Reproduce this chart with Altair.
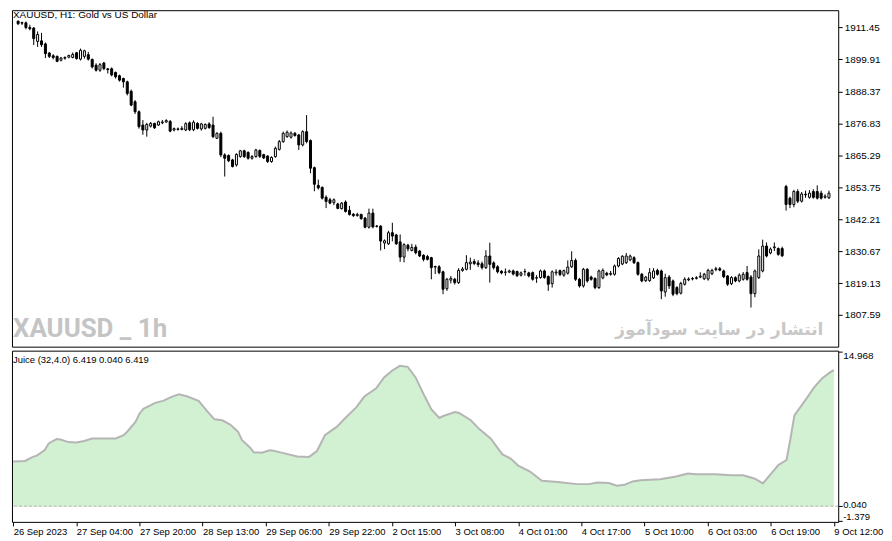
import altair as alt
import pandas as pd

# hourly XAUUSD bars, 26 Sep 2023 11:00 -> 9 Oct 2023 12:00 (index 0..208)
BAR_IDX = list(range(209))
OPENS = [
    1913.7, 1913.2, 1913.1, 1911.4, 1911.2, 1906.4, 1906.6, 1905.5, 1902.2, 1901.2,
    1901.0, 1899.6, 1900.3, 1900.7, 1900.6, 1902.3, 1900.0, 1901.0, 1901.6, 1899.9,
    1897.8, 1896.0, 1898.6, 1896.5, 1896.5, 1895.2, 1894.0, 1893.0, 1891.8, 1888.4,
    1884.6, 1881.0, 1876.2, 1874.4, 1875.8, 1876.8, 1876.2, 1877.0, 1877.3, 1877.5,
    1874.4, 1874.8, 1874.6, 1874.4, 1877.0, 1874.5, 1876.8, 1874.8, 1875.0, 1876.6,
    1876.2, 1871.4, 1873.2, 1865.4, 1865.2, 1863.6, 1861.8, 1864.8, 1866.9, 1866.3,
    1864.2, 1864.8, 1867.0, 1865.5, 1865.0, 1863.0, 1864.8, 1867.4, 1870.2, 1872.0,
    1871.8, 1873.2, 1872.6, 1869.0, 1873.8, 1870.6, 1860.8, 1854.4, 1853.7, 1850.1,
    1849.2, 1848.2, 1847.7, 1846.0, 1848.4, 1845.4, 1844.0, 1843.5, 1843.9, 1842.6,
    1839.3, 1844.4, 1839.7, 1839.7, 1833.6, 1833.3, 1837.3, 1836.5, 1834.0, 1828.5,
    1832.8, 1830.9, 1832.1, 1830.7, 1829.2, 1828.7, 1828.3, 1824.9, 1825.0, 1823.2,
    1817.1, 1820.2, 1820.5, 1819.3, 1823.7, 1824.1, 1826.1, 1826.9, 1826.4, 1826.1,
    1824.7, 1828.9, 1826.4, 1825.0, 1823.4, 1823.0, 1823.1, 1823.5, 1823.3, 1822.0,
    1823.2, 1822.8, 1822.9, 1820.9, 1821.1, 1823.5, 1821.5, 1818.9, 1822.8, 1823.6,
    1822.0, 1822.7, 1825.0, 1827.3, 1820.5, 1818.1, 1824.1, 1821.3, 1820.8, 1817.5,
    1821.0, 1822.7, 1822.3, 1822.3, 1825.3, 1826.0, 1826.5, 1827.5, 1828.3, 1826.5,
    1822.3, 1820.0, 1820.0, 1821.0, 1823.7, 1823.5, 1815.9, 1821.3, 1819.9, 1817.5,
    1815.5, 1818.7, 1820.3, 1820.6, 1820.8, 1821.3, 1820.7, 1820.6, 1822.5, 1824.0,
    1824.3, 1823.5, 1821.7, 1818.9, 1821.1, 1819.9, 1820.5, 1822.9, 1821.3, 1815.3,
    1821.1, 1823.5, 1832.5, 1830.0, 1831.9, 1831.6, 1831.6, 1854.0, 1849.8, 1847.5,
    1852.2, 1848.7, 1851.2, 1850.1, 1852.2, 1852.2, 1851.6, 1850.1, 1849.9,
]
HIGHS = [
    1913.9, 1913.5, 1913.6, 1912.4, 1911.6, 1910.0, 1909.5, 1906.0, 1902.6, 1901.8,
    1901.3, 1900.8, 1901.0, 1901.6, 1902.4, 1902.6, 1903.8, 1903.4, 1902.6, 1900.2,
    1898.5, 1898.6, 1899.0, 1896.8, 1897.0, 1895.5, 1894.4, 1893.3, 1892.2, 1889.0,
    1885.2, 1881.5, 1878.0, 1877.0, 1877.3, 1877.0, 1877.8, 1878.0, 1878.3, 1878.0,
    1875.3, 1875.3, 1875.8, 1877.2, 1877.5, 1877.9, 1877.2, 1877.0, 1876.8, 1877.2,
    1879.2, 1873.6, 1873.8, 1866.0, 1865.6, 1864.0, 1866.0, 1867.2, 1867.3, 1866.7,
    1865.4, 1867.6, 1867.4, 1865.8, 1865.3, 1864.9, 1868.4, 1870.8, 1873.8, 1874.2,
    1873.9, 1873.7, 1873.0, 1874.3, 1879.8, 1871.0, 1861.2, 1856.5, 1854.0, 1850.8,
    1849.9, 1849.7, 1848.1, 1848.4, 1849.0, 1847.0, 1844.4, 1844.5, 1844.2, 1843.0,
    1846.0, 1846.0, 1840.1, 1840.0, 1834.9, 1838.0, 1840.9, 1836.9, 1836.7, 1833.5,
    1833.3, 1833.3, 1833.0, 1831.0, 1829.5, 1829.3, 1828.6, 1825.4, 1825.6, 1823.6,
    1821.0, 1821.7, 1821.0, 1824.5, 1824.9, 1829.2, 1828.3, 1827.8, 1827.4, 1826.9,
    1831.0, 1833.7, 1827.0, 1825.6, 1823.8, 1824.4, 1824.0, 1824.0, 1823.6, 1823.3,
    1824.3, 1823.2, 1823.3, 1822.0, 1824.0, 1824.0, 1821.9, 1823.7, 1824.1, 1824.0,
    1824.0, 1827.3, 1830.6, 1828.0, 1821.0, 1824.6, 1824.5, 1821.8, 1821.2, 1824.0,
    1824.4, 1823.2, 1823.5, 1825.8, 1828.5, 1829.2, 1830.0, 1829.4, 1828.8, 1826.9,
    1822.8, 1821.7, 1824.5, 1824.5, 1824.3, 1824.0, 1822.5, 1822.0, 1820.4, 1818.0,
    1819.6, 1821.2, 1821.2, 1821.3, 1821.6, 1823.0, 1822.8, 1824.3, 1824.3, 1825.0,
    1824.9, 1824.0, 1822.0, 1821.6, 1821.6, 1822.6, 1823.1, 1825.3, 1822.0, 1824.0,
    1831.3, 1834.8, 1833.8, 1832.0, 1833.8, 1832.0, 1832.3, 1854.6, 1850.3, 1852.8,
    1853.0, 1852.0, 1852.5, 1852.7, 1853.0, 1854.4, 1852.5, 1851.2, 1852.5,
]
LOWS = [
    1912.3, 1912.3, 1910.8, 1910.4, 1905.1, 1904.4, 1904.4, 1900.4, 1900.4, 1899.9,
    1898.9, 1899.2, 1899.8, 1900.3, 1900.3, 1899.8, 1899.5, 1900.2, 1899.5, 1896.6,
    1895.5, 1895.4, 1896.0, 1894.8, 1893.8, 1893.0, 1891.9, 1889.7, 1886.9, 1883.0,
    1880.2, 1874.9, 1872.7, 1872.0, 1875.3, 1874.8, 1875.9, 1876.5, 1877.0, 1873.6,
    1873.9, 1874.2, 1874.3, 1874.0, 1874.0, 1874.0, 1874.6, 1874.2, 1874.6, 1874.8,
    1871.5, 1871.2, 1864.6, 1857.6, 1862.8, 1860.9, 1861.2, 1864.4, 1864.3, 1863.7,
    1863.7, 1864.4, 1864.3, 1863.9, 1862.5, 1862.6, 1864.4, 1867.0, 1869.8, 1871.6,
    1871.3, 1872.0, 1867.2, 1868.5, 1869.6, 1858.8, 1852.3, 1852.9, 1849.3, 1846.2,
    1847.6, 1847.3, 1845.8, 1845.7, 1844.6, 1843.5, 1843.0, 1843.1, 1842.0, 1838.9,
    1838.8, 1838.9, 1839.2, 1830.9, 1831.4, 1832.9, 1834.2, 1832.9, 1826.8, 1826.6,
    1830.6, 1830.6, 1829.5, 1828.5, 1827.0, 1827.3, 1820.5, 1822.4, 1822.3, 1815.1,
    1816.3, 1819.0, 1818.6, 1818.8, 1823.2, 1823.7, 1823.9, 1825.6, 1824.9, 1824.0,
    1824.2, 1819.3, 1824.0, 1822.6, 1822.3, 1821.8, 1822.7, 1821.9, 1821.3, 1821.5,
    1821.8, 1821.2, 1820.0, 1819.2, 1820.7, 1820.7, 1816.3, 1817.5, 1821.8, 1821.6,
    1821.4, 1822.2, 1824.6, 1819.9, 1817.5, 1817.5, 1819.3, 1820.0, 1816.9, 1817.0,
    1820.5, 1821.6, 1821.8, 1821.8, 1824.8, 1825.6, 1826.0, 1827.0, 1826.0, 1821.8,
    1819.4, 1819.5, 1819.6, 1820.6, 1821.8, 1813.3, 1814.2, 1817.0, 1814.4, 1814.7,
    1815.0, 1818.2, 1819.8, 1820.1, 1820.4, 1820.9, 1820.2, 1820.0, 1822.0, 1823.4,
    1823.4, 1820.9, 1818.1, 1818.4, 1819.4, 1819.4, 1820.0, 1820.0, 1810.3, 1814.0,
    1820.6, 1823.0, 1828.4, 1829.5, 1830.7, 1829.0, 1828.5, 1845.3, 1846.2, 1846.5,
    1848.0, 1848.2, 1849.9, 1849.6, 1849.6, 1849.3, 1849.3, 1849.6, 1849.5,
]
CLOSES = [
    1912.8, 1913.0, 1911.4, 1911.0, 1907.4, 1908.9, 1905.2, 1902.0, 1901.0, 1900.6,
    1899.2, 1900.4, 1900.6, 1901.3, 1901.7, 1900.2, 1903.2, 1903.0, 1900.0, 1897.2,
    1896.0, 1898.0, 1896.6, 1896.2, 1894.3, 1893.6, 1892.4, 1891.8, 1887.6, 1883.4,
    1881.0, 1875.6, 1874.4, 1876.4, 1876.8, 1875.2, 1877.4, 1877.3, 1877.8, 1874.0,
    1874.9, 1874.6, 1875.0, 1876.7, 1874.5, 1877.2, 1875.0, 1876.6, 1876.4, 1875.3,
    1872.0, 1873.2, 1865.4, 1864.2, 1863.3, 1861.2, 1865.6, 1866.9, 1864.8, 1864.2,
    1864.8, 1867.2, 1864.9, 1864.3, 1863.0, 1864.5, 1867.8, 1870.2, 1873.2, 1873.6,
    1873.3, 1872.4, 1869.0, 1873.8, 1870.2, 1860.6, 1854.8, 1853.5, 1849.8, 1848.6,
    1848.0, 1849.2, 1846.1, 1848.0, 1845.0, 1843.9, 1843.5, 1843.9, 1842.4, 1839.3,
    1844.4, 1839.4, 1839.6, 1834.3, 1834.4, 1837.3, 1836.1, 1833.3, 1828.5, 1833.0,
    1831.5, 1832.0, 1830.1, 1828.9, 1827.7, 1827.7, 1824.7, 1825.1, 1822.9, 1816.9,
    1820.5, 1820.8, 1819.3, 1823.7, 1824.2, 1826.5, 1826.7, 1826.2, 1825.8, 1824.7,
    1828.9, 1825.9, 1824.7, 1823.2, 1822.8, 1823.1, 1823.5, 1822.4, 1821.8, 1822.8,
    1823.3, 1821.7, 1820.5, 1821.1, 1823.5, 1821.1, 1818.7, 1823.2, 1823.1, 1822.2,
    1823.6, 1824.9, 1827.3, 1820.5, 1818.1, 1824.1, 1819.9, 1820.5, 1817.5, 1823.5,
    1823.7, 1822.1, 1822.6, 1825.3, 1828.0, 1828.8, 1828.9, 1828.9, 1826.5, 1822.3,
    1819.9, 1821.3, 1822.9, 1823.5, 1822.3, 1816.3, 1821.1, 1818.1, 1815.1, 1815.3,
    1819.0, 1820.5, 1820.6, 1820.8, 1821.1, 1821.6, 1822.3, 1823.7, 1823.7, 1824.3,
    1823.8, 1821.4, 1818.7, 1821.1, 1819.9, 1822.0, 1822.3, 1820.5, 1815.3, 1823.5,
    1828.9, 1832.5, 1828.9, 1831.4, 1832.2, 1829.5, 1829.0, 1847.5, 1847.5, 1852.2,
    1848.7, 1851.3, 1851.0, 1851.6, 1850.1, 1849.8, 1849.8, 1850.5, 1851.6,
]

# Juice (32, 4.0) oscillator, read at bar indices
JUICE_IDX = [
    0, 3, 5, 6, 8, 9, 11, 12, 14, 16, 18, 20, 23, 26, 28, 29, 31, 32, 33, 36,
    38, 40, 42, 44, 47, 49, 51, 53, 55, 57, 58, 60, 61, 63, 65, 66, 68, 72, 75, 77,
    79, 82, 84, 87, 89, 92, 94, 96, 98, 100, 102, 104, 106, 108, 109, 112, 113, 116, 118, 121,
    124, 126, 128, 131, 134, 138, 143, 146, 148, 151, 153, 155, 157, 159, 164, 168, 171, 173, 178, 182,
    185, 188, 190, 192, 194, 196, 197, 198, 201, 203, 205, 207, 208,
]
JUICE_VAL = [
    4.35, 4.41, 4.80, 4.92, 5.47, 6.10, 6.52, 6.48, 6.23, 6.19, 6.33, 6.58, 6.58, 6.58, 6.90, 7.28, 8.17, 8.97, 9.45, 10.02,
    10.21, 10.57, 10.85, 10.66, 10.21, 9.29, 8.43, 8.34, 7.92, 7.22, 6.42, 5.71, 5.24, 5.21, 5.43, 5.40, 5.21, 4.85, 4.80, 5.37,
    6.89, 7.70, 8.49, 9.61, 10.63, 11.43, 12.48, 13.12, 13.60, 13.50, 12.48, 10.88, 9.39, 8.56, 8.75, 9.13, 9.04, 8.34, 7.53, 6.58,
    5.04, 4.66, 3.96, 3.39, 2.50, 2.37, 2.17, 2.17, 2.33, 2.27, 2.02, 2.11, 2.43, 2.55, 2.65, 2.91, 3.20, 3.13, 3.13, 3.03,
    3.03, 2.69, 2.24, 3.13, 4.03, 4.50, 6.57, 8.81, 10.40, 11.52, 12.38, 12.96, 13.18,
]

PRICE_TICKS = [1807.59, 1819.13, 1830.67, 1842.21, 1853.75, 1865.29, 1876.83, 1888.37, 1899.91, 1911.45]
JUICE_TICKS = [14.968, 0.040, -1.379]
TIME_TICK_IDX = [0, 16, 32, 48, 64, 80, 96, 112, 128, 144, 160, 176, 192, 208]
TIME_LABELS = [
    "26 Sep 2023", "27 Sep 04:00", "27 Sep 20:00", "28 Sep 13:00", "29 Sep 06:00",
    "29 Sep 22:00", "2 Oct 15:00", "3 Oct 08:00", "4 Oct 01:00", "4 Oct 17:00",
    "5 Oct 10:00", "6 Oct 03:00", "6 Oct 19:00", "9 Oct 12:00",
]

W = 830
H_MAIN = 338
H_IND = 172
FONT = "Liberation Sans"

candles = pd.DataFrame(
    {"idx": BAR_IDX, "open": OPENS, "high": HIGHS, "low": LOWS, "close": CLOSES}
)
juice = pd.DataFrame({"idx": JUICE_IDX, "val": JUICE_VAL})

x_scale = alt.Scale(domain=[-0.3, 209.1], nice=False, zero=False)
price_scale = alt.Scale(domain=[1796.16, 1917.67], nice=False, zero=False)
juice_scale = alt.Scale(domain=[-1.475, 15.064], nice=False, zero=False)

price_axis = alt.Axis(
    orient="right", values=PRICE_TICKS, format=".2f", title=None,
    tickSize=4, labelPadding=2, labelBaseline="middle",
)

# Candles: wicks first, bodies on top
wicks = (
    alt.Chart(candles)
    .mark_rule(color="black", strokeWidth=1)
    .encode(
        alt.X("idx:Q").scale(x_scale).axis(None),
        alt.Y("low:Q").scale(price_scale).axis(price_axis),
        alt.Y2("high:Q"),
    )
)
bodies = (
    alt.Chart(candles)
    .mark_bar(size=2, stroke="black", strokeWidth=1)
    .encode(
        alt.X("idx:Q").scale(x_scale).axis(None),
        alt.Y("open:Q").scale(price_scale).axis(price_axis),
        alt.Y2("close:Q"),
        fill=alt.condition("datum.close >= datum.open", alt.value("white"), alt.value("black")),
    )
)

# Texts on the price panel
caption = (
    alt.Chart(pd.DataFrame({"t": ["XAUUSD, H1:  Gold vs US Dollar"]}))
    .mark_text(align="left", baseline="top", font=FONT, fontSize=10, color="black")
    .encode(text="t:N", x=alt.value(1), y=alt.value(0))
)
mark_left = (
    alt.Chart(pd.DataFrame({"t": ["XAUUSD _ 1h"]}))
    .mark_text(
        align="left", baseline="alphabetic", font="Roboto",
        fontSize=26, fontWeight="bold", color="#c4c4c4",
    )
    .encode(text="t:N", x=alt.value(1), y=alt.value(328))
)
mark_right = (
    alt.Chart(pd.DataFrame({"t": ["انتشار در سایت سودآموز"]}))
    .mark_text(
        align="right", baseline="alphabetic", font="DejaVu Sans",
        fontSize=17, fontWeight="bold", color="#c8c8c8",
    )
    .encode(text="t:N", x=alt.value(815), y=alt.value(326))
)

main = (wicks + bodies + caption + mark_left + mark_right).properties(width=W, height=H_MAIN)

# Indicator panel
time_js = "[" + ",".join(f"'{t}'" for t in TIME_LABELS) + "]"
time_axis = alt.Axis(
    orient="bottom", values=TIME_TICK_IDX, labelExpr=f"{time_js}[round(datum.value / 16)]",
    title=None, tickSize=4, labelAlign="left", labelBaseline="top", labelPadding=1,
    labelOverlap=False, labelFlush=False, labelFontSize=9.5,
)
juice_axis = alt.Axis(orient="right", values=JUICE_TICKS, labels=False, title=None, tickSize=4)

area = (
    alt.Chart(juice)
    .mark_area(color="#d2f0d2")
    .encode(
        alt.X("idx:Q").scale(x_scale).axis(time_axis),
        alt.Y("val:Q").scale(juice_scale).axis(juice_axis),
        y2=alt.datum(0),
    )
)
line = (
    alt.Chart(juice)
    .mark_line(color="#b5b5b5", strokeWidth=2)
    .encode(
        alt.X("idx:Q").scale(x_scale).axis(time_axis),
        alt.Y("val:Q").scale(juice_scale).axis(juice_axis),
    )
)
zero_line = (
    alt.Chart(pd.DataFrame({"v": [JUICE_TICKS[1]]}))
    .mark_rule(color="#b5b5b5", strokeWidth=1, strokeDash=[3, 2])
    .encode(alt.Y("v:Q").scale(juice_scale).axis(juice_axis))
)

# right-hand labels of the indicator scale
lab_df = pd.DataFrame({"v": JUICE_TICKS, "t": ["14.968", "0.040", "-1.379"]})
lab_top = (
    alt.Chart(lab_df).transform_filter("datum.v > 10")
    .mark_text(align="left", baseline="top", font=FONT, fontSize=10, color="black", dy=-1)
    .encode(text="t:N", x=alt.value(W + 5), y=alt.Y("v:Q").scale(juice_scale).axis(juice_axis))
)
lab_mid = (
    alt.Chart(lab_df).transform_filter("datum.v > 0 && datum.v < 10")
    .mark_text(align="left", baseline="middle", font=FONT, fontSize=9.5, color="black", dy=-1)
    .encode(text="t:N", x=alt.value(W + 5), y=alt.Y("v:Q").scale(juice_scale).axis(juice_axis))
)
lab_low = (
    alt.Chart(lab_df).transform_filter("datum.v < 0")
    .mark_text(align="left", baseline="bottom", font=FONT, fontSize=9.5, color="black", dy=1)
    .encode(text="t:N", x=alt.value(W + 5), y=alt.Y("v:Q").scale(juice_scale).axis(juice_axis))
)
juice_caption = (
    alt.Chart(pd.DataFrame({"t": ["Juice (32,4.0) 6.419 0.040 6.419"]}))
    .mark_text(align="left", baseline="middle", font=FONT, fontSize=9.5, color="black")
    .encode(text="t:N", x=alt.value(1), y=alt.value(9))
)

indicator = (area + zero_line + line + lab_top + lab_mid + lab_low + juice_caption).properties(
    width=W, height=H_IND
)

chart = (
    alt.vconcat(main, indicator, spacing=2)
    .properties(padding={"left": 0, "top": 0, "right": 0, "bottom": 0}, background="white")
    .configure_view(stroke="black", strokeWidth=1)
    .configure_axis(
        labelFont=FONT, labelFontSize=10, labelColor="black", tickColor="black",
        tickWidth=1, grid=False, domain=False,
    )
)

chart.save("out.html", embed_options={"renderer": "svg", "actions": False})
